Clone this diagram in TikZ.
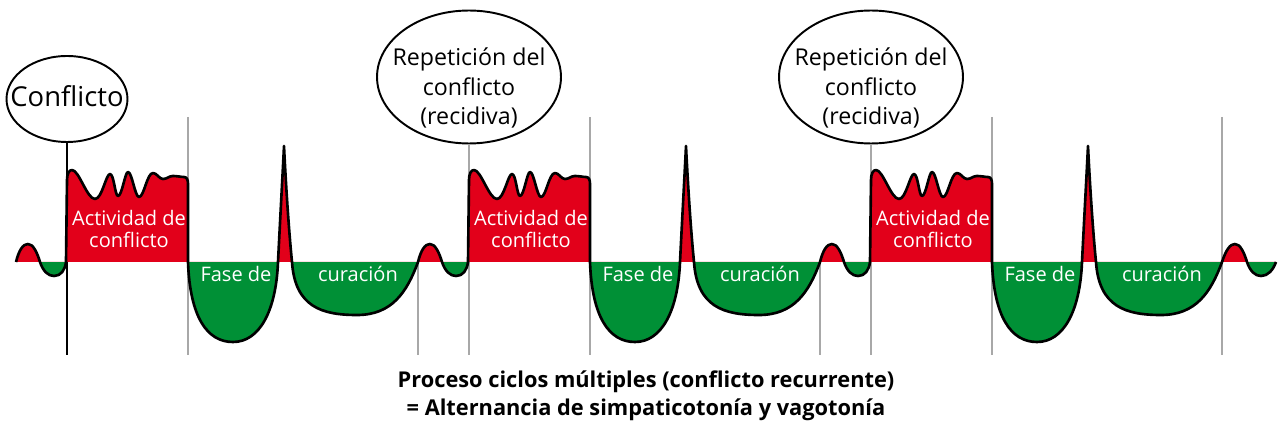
\documentclass[tikz,border=0pt]{standalone}
\usepackage{fontspec}
\setmainfont{Open Sans}
\usetikzlibrary{shapes.geometric, positioning}
\definecolor{actred}{HTML}{E2001A}
\definecolor{healgreen}{HTML}{009036}
\definecolor{markgray}{HTML}{A8A8A8}

\begin{document}
\begin{tikzpicture}[
  x=0.02cm, y=0.02cm,
  bubble/.style={ellipse, draw=black, line width=1.1pt, fill=white, inner sep=0pt},
  bubbletext/.style={align=center, inner sep=0pt, font=\fontsize{13.2}{17}\selectfont},
  phase/.style={text=white, align=center, font=\fontsize{11.4}{13}\selectfont},
  caption/.style={align=center, font=\fontsize{12.4}{16}\selectfont\bfseries},
  wave/.style={draw=black, line width=1.5pt, line join=round},
  onset/.style={black, line width=0.9pt},
  marker/.style={markgray, line width=1pt}
]
\useasboundingbox (0,-167) rectangle (1285,262);

% Bubbles
\node[bubble, minimum width=2.42cm, minimum height=1.72cm] (conf) at (67,163) {};
\node[bubble, minimum width=3.68cm, minimum height=2.66cm] (rep1) at (469,185) {};
\node[bubble, minimum width=3.68cm, minimum height=2.66cm] (rep2) at (871,185) {};
\node[bubbletext, font=\fontsize{15.6}{18}\selectfont] (conftxt) at (67,166) {Conflicto};
\node[bubbletext] (rep1txt) at (469,174) {Repetición del\\conflicto\\(recidiva)};
\node[bubbletext] (rep2txt) at (871,174) {Repetición del\\conflicto\\(recidiva)};

% Phase markers
\coordinate (base1) at (67,-93);
\coordinate (base2) at (469,-93);
\coordinate (base3) at (871,-93);
\foreach \x/\i in {67/1,469/2,871/3} {
  \coordinate (top\i) at (\x+121,145);
  \coordinate (low\i) at (\x+121,-93);
  \coordinate (turn\i) at (\x+351,0);
  \coordinate (foot\i) at (\x+351,-93);
  \draw[marker] (top\i) -- (low\i);
}
\draw[marker] (turn1) -- (foot1);
\draw[marker] (turn2) -- (foot2);
\coordinate (turn3) at (1222,145);
\draw[marker] (turn3) -- (foot3);
\draw[marker] (rep1) -- (base2);
\draw[marker] (rep2) -- (base3);
\draw[onset] (conf) -- (base1);

% Wave
\draw[wave, path picture={
    \fill[actred] (0,0) rectangle (1285,200);
    \fill[healgreen] (0,0) rectangle (1285,-200);}]
  (16,0)
  \foreach \x in {67,469,871} {
    .. controls (\x-48,12) and (\x-44,18) .. (\x-39,18)
    .. controls (\x-34,18) and (\x-30,10) .. (\x-27,0)
    .. controls (\x-24,-9) and (\x-19,-14) .. (\x-13,-14)
    .. controls (\x-6,-14) and (\x-2,-8) .. (\x-1,0)
    -- (\x,82) .. controls (\x,88) and (\x+2,92) .. (\x+5,92)
    .. controls (\x+12,92) and (\x+20,63) .. (\x+28,63)
    .. controls (\x+35,63) and (\x+39,88) .. (\x+43,88)
    .. controls (\x+47,88) and (\x+48,66) .. (\x+51,66)
    .. controls (\x+55,66) and (\x+58,90) .. (\x+61,90)
    .. controls (\x+65,90) and (\x+68,65) .. (\x+72,65)
    .. controls (\x+77,65) and (\x+80,89) .. (\x+86,89)
    .. controls (\x+90,89) and (\x+92,83) .. (\x+96,83)
    .. controls (\x+100,83) and (\x+102,86) .. (\x+106,86)
    .. controls (\x+110,86) and (\x+114,85) .. (\x+117,85)
    .. controls (\x+120,85) and (\x+121,82) .. (\x+121,78)
    -- (\x+121,0)
    .. controls (\x+123,-55) and (\x+140,-80) .. (\x+166,-80)
    .. controls (\x+192,-80) and (\x+209,-50) .. (\x+211,0)
    .. controls (\x+213,40) and (\x+216,95) .. (\x+217,116)
    .. controls (\x+218,95) and (\x+221,40) .. (\x+225,0)
    .. controls (\x+228,-45) and (\x+255,-53) .. (\x+290,-53)
    .. controls (\x+325,-53) and (\x+340,-30) .. (\x+351,0)
  }
  .. controls (1226,12) and (1230,18) .. (1235,18)
  .. controls (1240,18) and (1244,10) .. (1247,0)
  .. controls (1250,-9) and (1255,-14) .. (1261,-14)
  .. controls (1268,-14) and (1273,-8) .. (1276,0);

% Labels
\foreach \x/\i in {67/1,469/2,871/3} {
  \node[phase] (act\i) at (\x+62,33) {Actividad de\\conflicto};
  \node[phase] (fase\i) at (\x+169,-12) {Fase de};
  \node[phase] (cur\i) at (\x+291,-12) {curación};
}
\node[caption] (note) at (646,-134) {Proceso ciclos múltiples (conflicto recurrente)\\= Alternancia de simpaticotonía y vagotonía};

\end{tikzpicture}
\end{document}
